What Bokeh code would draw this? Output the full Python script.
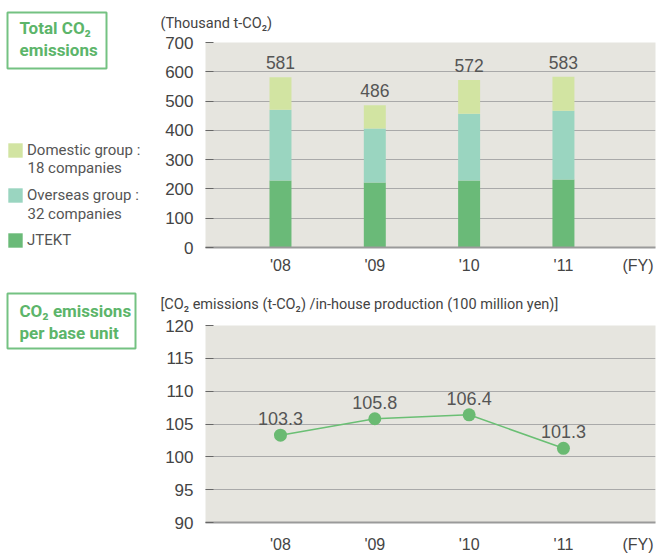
import numpy as np
from bokeh.plotting import figure
from bokeh.layouts import column, row
from bokeh.models import (Range1d, FixedTicker, Label, Legend, LegendItem,
                          ColumnDataSource, Title, BoxAnnotation)
from bokeh.core.properties import value
from bokeh.embed import file_html
from bokeh.resources import INLINE

# ---- data ----
years = ["'08", "'09", "'10", "'11"]
totals = [581, 486, 572, 583]          # thousand t-CO2
jtekt = [229, 222, 229, 232]
overseas = [241, 184, 228, 235]
domestic = [t - j - o for t, j, o in zip(totals, jtekt, overseas)]
per_unit = [103.3, 105.8, 106.4, 101.3]  # t-CO2 / 100 million yen

series_labels = ["Domestic group :", "Overseas group :", "JTEKT"]
series_notes = ["18 companies", "32 companies", ""]

x_pos = list(range(len(years)))

BG = "#e6e5df"
GRID = "#a9a9a9"
TXT = "#444444"
LBL = "#555555"
GREEN_TXT = "#5cb56a"
GREEN_BOX = "#74c282"
C_JTEKT = "#6aba78"
C_OVER = "#9ad5c0"
C_DOM = "#d2e4a2"
COND = "Roboto"
SANS = "Liberation Sans"

LEFT_W = 150
CHART_W = 664 - LEFT_W


def style(p, ticks, fy_pos, x_standoff):
    p.background_fill_color = BG
    p.border_fill_color = "white"
    p.outline_line_color = None
    p.ygrid.grid_line_color = GRID
    p.ygrid.grid_line_width = 1
    p.xgrid.grid_line_color = None
    p.yaxis.ticker = FixedTicker(ticks=ticks)
    p.yaxis.axis_line_color = None
    p.yaxis.major_tick_in = 8
    p.yaxis.major_tick_out = 0
    p.yaxis.major_tick_line_color = "#666666"
    p.yaxis.minor_tick_line_color = None
    p.yaxis.major_label_text_font = SANS
    p.yaxis.major_label_text_font_size = "17px"
    p.yaxis.major_label_text_color = TXT
    p.yaxis.major_label_standoff = 12
    p.xaxis.ticker = FixedTicker(ticks=x_pos + [fy_pos])
    overrides = {i: y for i, y in zip(x_pos, years)}
    overrides[fy_pos] = "(FY)"
    p.xaxis.major_label_overrides = overrides
    p.xaxis.axis_line_color = "#9a9a9a"
    p.xaxis.axis_line_width = 2
    p.xaxis.major_tick_line_color = None
    p.xaxis.minor_tick_line_color = None
    p.xaxis.major_label_text_font = SANS
    p.xaxis.major_label_text_font_size = "16px"
    p.xaxis.major_label_text_color = TXT
    p.xaxis.major_label_standoff = x_standoff


# ---- left column: section headings and legend ----
# data units of this panel are pixels measured from its top-left corner
side = figure(width=LEFT_W, height=555, output_backend="svg",
              toolbar_location=None, x_axis_location=None,
              y_axis_location=None, x_range=Range1d(0, LEFT_W),
              y_range=Range1d(555, 0), min_border=0)
side.outline_line_color = None
side.grid.grid_line_color = None
side.background_fill_color = "white"
side.border_fill_color = "white"

# legend keys: one-row quads with no extent, only their fill is shown
swatches = [side.quad(left=[np.nan], right=[np.nan], top=[np.nan],
                      bottom=[np.nan], fill_color=c, line_color=None)
            for c in (C_DOM, C_OVER, C_JTEKT)]
legend = Legend(items=[LegendItem(label=l, renderers=[r])
                       for l, r in zip(series_labels, swatches)],
                location=(6, 306), orientation="vertical",
                background_fill_alpha=0, border_line_color=None,
                padding=0, margin=0, spacing=27,
                glyph_width=18, glyph_height=18, label_standoff=3,
                label_text_font=COND, label_text_font_size="15px",
                label_text_color=LBL)
side.add_layout(legend)

# second line of each legend entry
for note, ny in zip(series_notes, (167, 213)):
    side.add_layout(Label(x=27, y=ny, text=note, text_align="left",
                          text_baseline="middle", text_font=COND,
                          text_font_size="15px", text_color=LBL))

headings = [("Total CO₂\nemissions", 7, 106, 12, 68, 17),
            ("CO₂ emissions\nper base unit", 7, 135, 293, 348, 300)]
for txt, l, r, t, b, ty in headings:
    side.add_layout(BoxAnnotation(left=l, right=r, top=t, bottom=b,
                                  fill_alpha=0, line_color=GREEN_BOX,
                                  line_alpha=1, line_width=2))
    side.add_layout(Label(x=19, y=ty, text=txt, text_align="left",
                          text_baseline="top", text_font=COND,
                          text_font_style="bold", text_font_size="17px",
                          text_line_height=1.12, text_color=GREEN_TXT))

# ---- total emissions (stacked bars) ----
top = figure(width=CHART_W, height=279, output_backend="svg",
             toolbar_location=None,
             x_range=Range1d(-0.795, 3.976), y_range=Range1d(0, 700),
             min_border_left=55, min_border_right=9,
             min_border_top=42, min_border_bottom=32)
style(top, list(range(0, 701, 100)), 3.79, 3)
top.add_layout(Title(text="(Thousand t-CO₂)", align="left", offset=-45,
                     standoff=21, text_font=COND, text_font_size="14.5px",
                     text_font_style="normal", text_color=TXT), "above")

src = ColumnDataSource(dict(x=x_pos, jtekt=jtekt, overseas=overseas,
                            domestic=domestic, total=totals,
                            label=[str(t) for t in totals]))
top.vbar_stack(["jtekt", "overseas", "domestic"], x="x", width=0.233,
               color=[C_JTEKT, C_OVER, C_DOM], line_color=None, source=src)
top.text(x="x", y="total", text="label", source=src, text_align="center",
         text_baseline="bottom", y_offset=-8, text_font=value(SANS),
         text_font_size="17.5px", text_color=LBL)

# ---- emissions per base unit (line) ----
bot = figure(width=CHART_W, height=276, output_backend="svg",
             toolbar_location=None,
             x_range=Range1d(-0.795, 3.976), y_range=Range1d(90, 120),
             min_border_left=55, min_border_right=9,
             min_border_top=46, min_border_bottom=23)
style(bot, list(range(90, 121, 5)), 3.79, 7)
bot.add_layout(Title(text="[CO₂ emissions (t-CO₂) /in-house production (100 million yen)]",
                     align="left", offset=-45, standoff=25, text_font=COND,
                     text_font_size="14.5px", text_font_style="normal",
                     text_color=TXT), "above")

lsrc = ColumnDataSource(dict(x=x_pos, y=per_unit,
                             label=[f"{v:.1f}" for v in per_unit]))
bot.line(x="x", y="y", source=lsrc, line_color="#6abf74", line_width=1.5)
bot.scatter(x="x", y="y", source=lsrc, size=13, fill_color="#6aba72",
            line_color=None)
bot.text(x="x", y="y", text="label", source=lsrc, text_align="center",
         text_baseline="bottom", y_offset=-10, text_font=value(SANS),
         text_font_size="18px", text_color=LBL)

page = row(side, column(top, bot, spacing=0), spacing=0)
open("out.html", "w").write(file_html(page, INLINE))
